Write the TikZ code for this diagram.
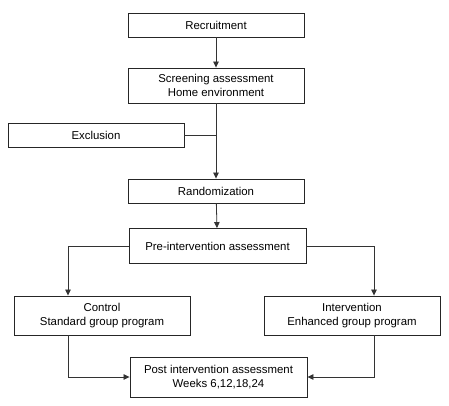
\documentclass[tikz,border=0pt]{standalone}
\usepackage{fontspec}
\setmainfont{Liberation Sans}
\usetikzlibrary{arrows.meta}

\begin{document}
\begin{tikzpicture}[x=1pt, y=-1pt]
\useasboundingbox (0, 0) rectangle (449, 406);
\begin{scope}[every node/.style={rectangle, draw=black!85, line width=0.9pt, fill=white,
              minimum width=176pt, inner sep=0pt, align=center,
              font=\fontsize{11.4}{13.6}\selectfont}]
    \node (recruit) at (216, 25) [minimum height=24pt] {Recruitment};
    \node (screen) at (216, 85.5) [minimum height=35pt] {Screening assessment\\Home environment};
    \node (exclude) at (96, 135) [minimum height=24pt] {Exclusion};
    \node (random) at (216, 191) [minimum height=24pt] {Randomization};
    \node (pre) at (217.5, 246) [minimum height=35pt, minimum width=177pt] {Pre-intervention assessment};
    \node (control) at (102, 315.5) [minimum height=39pt] {Control\\Standard group program};
    \node (interv) at (352, 315.5) [minimum height=39pt] {Intervention\\Enhanced group program};
    \node (post) at (218.5, 377) [minimum height=40pt, minimum width=177pt] {Post intervention assessment\\Weeks 6,12,18,24};
\end{scope}

% columns the side arrows run down
\coordinate (lcol) at (68, 0);
\coordinate (rcol) at (374, 0);

\begin{scope}[>={Triangle[length=6pt, width=5.5pt]},
              every path/.style={draw=black!80, line width=0.8pt}]
    \path [->] (recruit) edge (screen);
    \path [->] (screen) edge (random);
    \draw (exclude.east) -- (exclude.east -| screen.south);
    \path [->] (random) edge (pre);
    \draw [->] (pre.west) -| (lcol |- control.north);
    \draw [->] (pre.east) -| (rcol |- interv.north);
    \draw [->] (lcol |- control.south) |- (post.west);
    \draw [->] (rcol |- interv.south) |- (post.east);
\end{scope}
\end{tikzpicture}
\end{document}
